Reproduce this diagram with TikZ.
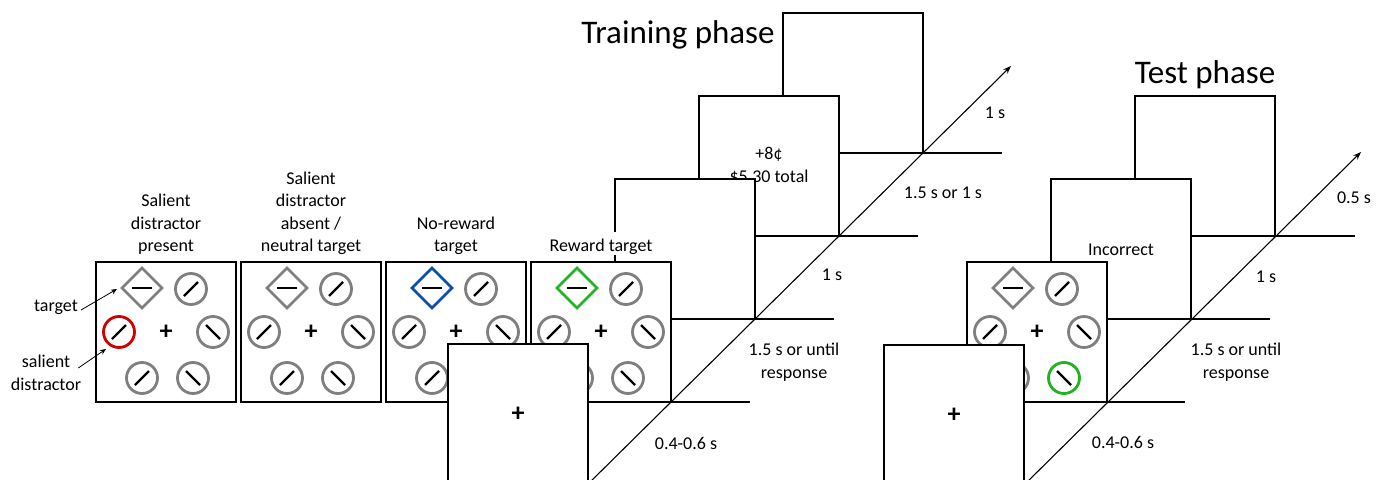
\documentclass[tikz,border=0pt]{standalone}
\usepackage{fontspec}
\setmainfont{Carlito}
\usetikzlibrary{arrows.meta}
\definecolor{ringgray}{HTML}{7F7F7F}
\definecolor{sred}{HTML}{D00000}
\definecolor{sblue}{HTML}{0B4DB3}
\definecolor{sgreen}{HTML}{21B321}
\tikzset{
  frame/.style={draw=black, line width=1.1pt, fill=white, minimum width=140pt, minimum height=140pt, anchor=north west, outer sep=0pt, inner sep=0pt},
  tickline/.style={line width=1.1pt},
  ringst/.style={line width=2.8pt},
  barst/.style={line width=2.2pt, black},
  lbl/.style={font=\fontsize{18}{22.5}\selectfont, align=center, inner sep=0pt},
  ttl/.style={font=\fontsize{33}{36}\selectfont, inner sep=0pt},
  fix/.style={font=\fontsize{26}{26}\selectfont\bfseries, inner sep=0pt},
  timeaxis/.style={line width=1.1pt, -{Stealth[length=8pt,width=6pt]}},
  ptr/.style={line width=0.8pt, -{Stealth[length=6pt,width=5pt]}},
  pics/rs/.style={code={\draw[ringst,draw=#1] (0,0) circle[radius=15.5pt]; \draw[barst] (-7pt,-7pt)--(7pt,7pt);}},
  pics/rb/.style={code={\draw[ringst,draw=#1] (0,0) circle[radius=15.5pt]; \draw[barst] (-7pt,7pt)--(7pt,-7pt);}},
  pics/dia/.style={code={\draw[ringst,draw=#1] (-20pt,0pt)--(0pt,20pt)--(20pt,0pt)--(0pt,-20pt)--cycle; \draw[barst] (-10pt,0pt)--(10pt,0pt);}},
}
\newcommand\stimpanel[5]{%
  \node[frame] (#1) at (#2) {};
  \begin{scope}[shift={(#1.north west)}]
    \pic at (46,26) {dia=#3};
    \pic at (95,27) {rs=ringgray};
    \pic at (23,70) {rs=#4};
    \node[fix] (#1c) at (70,70) {+};
    \pic at (117,70) {rb=ringgray};
    \pic at (46,116) {rs=ringgray};
    \pic at (97,116) {rb=#5};
  \end{scope}}
\begin{document}
\begin{tikzpicture}[x=1pt,y=-1pt]
\clip (0,0) rectangle (1386,479);
\fill[white] (0,0) rectangle (1386,479);

% ---------------- Training phase ----------------
\node[ttl] (trainT) at (678,35) {Training phase};
\node[frame] (A) at (783,13) {};
\draw[tickline] (A.south east) -- ++(79,0);
\node[frame] (B) at (699,96) {};
\draw[tickline] (B.south east) -- ++(79,0);
\node[lbl] (Btxt) at (B.center) {+8¢\\\$5.30 total};
\node[frame] (C) at (615,179) {};
\draw[tickline] (C.south east) -- ++(79,0);

\stimpanel{P1}{96,262}{ringgray}{sred}{ringgray}
\stimpanel{P2}{241,262}{ringgray}{ringgray}{ringgray}
\stimpanel{P3}{386,262}{sblue}{ringgray}{ringgray}
\stimpanel{P4}{531,262}{sgreen}{ringgray}{ringgray}
\draw[tickline] (P4.south east) -- ++(79,0);

\node[lbl, anchor=south] (L1) at (166,255) {Salient\\distractor\\present};
\node[lbl, anchor=south] (L2) at (311,255) {Salient\\distractor\\absent /\\neutral target};
\node[lbl, anchor=south] (L3) at (456,255) {No-reward\\target};
\node[lbl, anchor=south, fill=white, inner xsep=1pt, text height=20pt] (L4) at (601,255) {Reward target};

\node[lbl] (tgtL) at (56,307) {target};
\node[lbl] (salL) at (46,373) {salient\\distractor};
\coordinate (tgtTip) at (117,289);
\coordinate (salTip) at (106,349);
\draw[ptr] (tgtL.east) ++(3,3) -- (tgtTip);
\draw[ptr] (salL.east) ++(-3,-5) -- (salTip);

\node[frame] (E) at (448,344) {};
\node[fix] (Efix) at (518,414) {+};

\coordinate (tr0) at (583,489);
\coordinate (tr1) at (1011,66);
\draw[timeaxis] (tr0) -- (tr1);

\node[lbl] (t1) at (995,113) {1 s};
\node[lbl] (t2) at (943,193) {1.5 s or 1 s};
\node[lbl] (t3) at (832,275) {1 s};
\node[lbl] (t4) at (794,362) {1.5 s or until\\response};
\node[lbl] (t5) at (686,443) {0.4-0.6 s};

% ---------------- Test phase ----------------
\node[ttl] (testT) at (1205,75) {Test phase};
\node[frame] (T1) at (1135,96) {};
\draw[tickline] (T1.south east) -- ++(80,0);
\node[frame] (T2) at (1051,179) {};
\draw[tickline] (T2.south east) -- ++(79,0);
\node[lbl] (T2txt) at (1121,250) {Incorrect};
\stimpanel{T3}{967,262}{ringgray}{ringgray}{sgreen}
\draw[tickline] (T3.south east) -- ++(78,0);
\node[frame] (T4) at (884,345) {};
\node[fix] (T4fix) at (954,415) {+};

\coordinate (te0) at (1020,489);
\coordinate (te1) at (1361,152);
\draw[timeaxis] (te0) -- (te1);

\node[lbl] (u1) at (1354,198) {0.5 s};
\node[lbl] (u2) at (1266,277) {1 s};
\node[lbl] (u3) at (1236,362) {1.5 s or until\\response};
\node[lbl] (u4) at (1123,442) {0.4-0.6 s};
\end{tikzpicture}
\end{document}
